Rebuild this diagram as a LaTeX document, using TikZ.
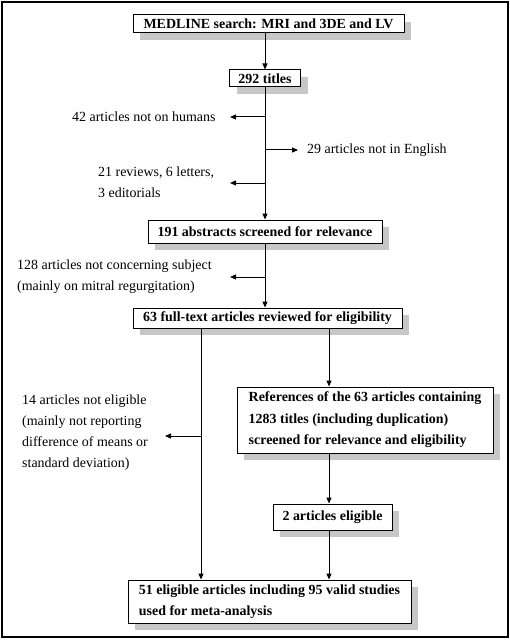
\documentclass[tikz,border=0pt]{standalone}
\usepackage{fontspec}
\setmainfont{Liberation Serif}
\usetikzlibrary{shadows,arrows.meta}
\begin{document}
\begin{tikzpicture}[x=1bp,y=-1bp,
  box/.style={draw=black, line width=1bp, fill=white, font=\bfseries\fontsize{14}{21.5}\selectfont, inner sep=0pt,
    drop shadow={shadow xshift=7bp, shadow yshift=-7bp, fill=black!22, opacity=1}},
  lbl/.style={font=\fontsize{14}{21}\selectfont, inner sep=0pt, align=left},
  arr/.style={line width=1bp, -{Triangle[length=6bp,width=5bp]}}]
\useasboundingbox (0,0) rectangle (510,640);
\draw[line width=2bp] (2,2) rectangle (508,637);
% columns
\coordinate (colM) at (265,0);
\coordinate (colL) at (201,0);
\coordinate (colR) at (329,0);
% boxes
\node[box, minimum width=271bp, minimum height=18bp] (m) at (268.5,24) {MEDLINE search: MRI and 3DE and LV};
\node[box, minimum width=71bp, minimum height=17bp] (t) at (265,78.5) {292 titles};
\node[box, minimum width=234bp, minimum height=23bp] (a) at (265,231.5) {191 abstracts screened for relevance};
\node[box, minimum width=269bp, minimum height=20bp] (f) at (267.5,318) {63 full-text articles reviewed for eligibility};
\node[box, minimum width=256bp, minimum height=66bp, align=left] (r) at (365,420) {References of the 63 articles containing\\1283 titles (including duplication)\\screened for relevance and eligibility};
\node[box, minimum width=119bp, minimum height=26bp] (e) at (332.5,517) {2 articles eligible};
\node[box, minimum width=283bp, minimum height=43bp, align=left] (u) at (269.5,601.5) {51 eligible articles including 95 valid studies\\used for meta-analysis};
% side labels
\node[lbl, anchor=west] (l1) at (72,117) {42 articles not on humans};
\node[lbl, anchor=west] (l2) at (307,150) {29 articles not in English};
\node[lbl, anchor=north west] (l3) at (98,167) {21 reviews, 6 letters,\\3 editorials};
\node[lbl, anchor=north west] (l4) at (17,260) {128 articles not concerning subject\\(mainly on mitral regurgitation)};
\node[lbl, anchor=north west] (l5) at (22,395) {14 articles not eligible\\(mainly not reporting\\difference of means or\\standard deviation)};
% branch points and free ends
\coordinate (s1) at (265,117); \coordinate (e1) at (230,117);
\coordinate (s2) at (265,150); \coordinate (e2) at (298,150);
\coordinate (s3) at (265,183); \coordinate (e3) at (230,183);
\coordinate (s4) at (265,277); \coordinate (e4) at (230,277);
\coordinate (s5) at (201,436); \coordinate (e5) at (165,436);
% main connectors
\draw[arr] (m.south -| colM) -- (t.north -| colM);
\draw[arr] (t.south -| colM) -- (a.north -| colM);
\draw[arr] (a.south -| colM) -- (f.north -| colM);
\draw[arr] (f.south -| colL) -- (u.north -| colL);
\draw[arr] (f.south -| colR) -- (r.north -| colR);
\draw[arr] (r.south -| colR) -- (e.north -| colR);
\draw[arr] (e.south -| colR) -- (u.north -| colR);
% side arrows
\draw[arr] (s1) -- (e1);
\draw[arr] (s2) -- (e2);
\draw[arr] (s3) -- (e3);
\draw[arr] (s4) -- (e4);
\draw[arr] (s5) -- (e5);
\end{tikzpicture}
\end{document}
